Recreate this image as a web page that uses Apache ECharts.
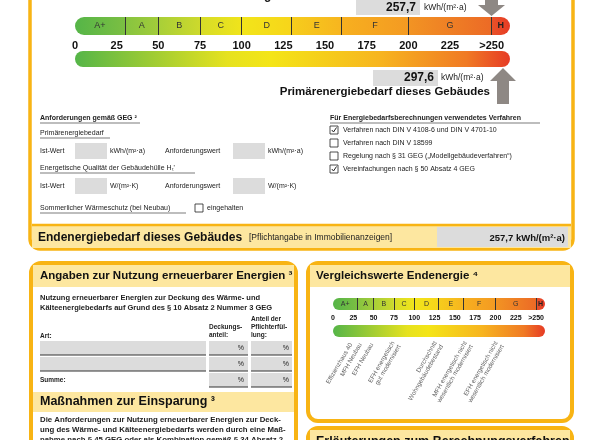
<!DOCTYPE html>
<html><head><meta charset="utf-8">
<script src="https://cdn.jsdelivr.net/npm/echarts@6/dist/echarts.min.js"></script>
<style>html,body{margin:0;padding:0;background:#fff}#c{width:590px;height:440px}</style>
</head><body><div id="c"></div>
<script>
const classLabels = ['A+','A','B','C','D','E','F','G','H'];
const classBounds = [0,30,50,75,100,130,160,200,250,261];
const tickValues = [0,25,50,75,100,125,150,175,200,225,250];
const tickLabels = ['0','25','50','75','100','125','150','175','200','225','>250'];
const endEnergy = 257.7;
const primaryEnergy = 297.6;
const refLabels = ['Effizienzhaus 40','MFH Neubau','EFH Neubau','EFH energetisch\ngut modernisiert','Durchschnitt\nWohngebäudebestand','MFH energetisch nicht\nwesentlich modernisiert','EFH energetisch nicht\nwesentlich modernisiert'];
const refValues = [22, 34, 48, 78, 130, 167, 205];

const classColors = [['#55b548','#7bbf42'],['#86c440','#a2cc3a'],['#a8cf38','#cdd92c'],['#d6dc28','#f0e41b'],['#f2e51a','#f7d51a'],['#f6cd1c','#f7b51f'],['#f7b01f','#f49a22'],['#f29423','#ec6a26'],['#e95228','#e63b25']];
const gradStops = [{offset:0,color:'#55b548'},{offset:0.35,color:'#e6e21f'},{offset:0.45,color:'#f4e517'},{offset:0.7,color:'#f7b51f'},{offset:0.9,color:'#f07a24'},{offset:1,color:'#e63b25'}];
const MAX = 261;
const FONT = 'Liberation Sans, Arial, sans-serif';
const ORANGE = '#f8b414', BAND = '#fde7a0', GRAY = '#dcdcdc', ARROW = '#8e8884';

function segSeries(xi, yi, fs){
  return classLabels.map((lab,i)=>({
    type:'bar', stack:'c'+xi, xAxisIndex:xi, yAxisIndex:yi, barWidth:'100%',
    data:[classBounds[i+1]-classBounds[i]],
    itemStyle:{color:{type:'linear',x:0,y:0,x2:1,y2:0,colorStops:[{offset:0,color:classColors[i][0]},{offset:1,color:classColors[i][1]}]},
      borderRadius: i===0?[20,0,0,20]:(i===classLabels.length-1?[0,20,20,0]:0)},
    label:{show:true,position:'inside',formatter:lab,fontFamily:FONT,fontSize:fs,color:lab==='H'?'#222':'#333',fontWeight:lab==='H'?'bold':'normal'},
    markLine: i===0?{silent:true,symbol:'none',label:{show:false},lineStyle:{color:'#333',width:1,type:'solid'},data:classBounds.slice(1,-1).map(v=>({xAxis:v}))}:undefined,
    animation:false
  }));
}
function gradSeries(xi, yi){
  return {type:'bar',xAxisIndex:xi,yAxisIndex:yi,barWidth:'100%',data:[MAX],animation:false,
    itemStyle:{borderRadius:20,color:{type:'linear',x:0,y:0,x2:1,y2:0,colorStops:gradStops}}};
}
function xAx(gi, showLabels, fs){
  return {type:'value',gridIndex:gi,min:0,max:MAX,interval:25,z:20,
    axisLine:{show:false},axisTick:{show:false},splitLine:{show:false},
    axisLabel:{show:showLabels,margin:showLabels?5:0,fontFamily:FONT,fontWeight:'bold',fontSize:fs,color:'#111',
      showMaxLabel:false,
      formatter:v=>{const k=tickValues.indexOf(v);return k<0?'':tickLabels[k];}}};
}
function yAx(gi){return {type:'category',gridIndex:gi,data:['x'],show:false};}

const g = [];
function T(x,y,t,o){g.push({type:'text',x,y,style:Object.assign({text:t,fontFamily:FONT,fontSize:7,fill:'#222',verticalAlign:'middle'},o||{}),z:10});}
function R(x,y,w,h,fill,o){g.push(Object.assign({type:'rect',shape:{x,y,width:w,height:h,r:(o&&o.r)||0},style:{fill,stroke:(o&&o.stroke)||null,lineWidth:(o&&o.lw)||1},z:(o&&o.z)||5}));}
function L(x1,y1,x2,y2,c,w){g.push({type:'line',shape:{x1,y1,x2,y2},style:{stroke:c||'#222',lineWidth:w||0.6},z:10});}
function U(x,y,t,w,o){T(x,y,t,o);L(x,y+5,x+w,y+5,'#222',0.6);}
function CB(x,y,checked){R(x,y-4,8,8,'#fff',{stroke:'#222',lw:0.8,z:11});if(checked){g.push({type:'polyline',shape:{points:[[x+1.8,y],[x+3.5,y+2],[x+6.5,y-2.5]]},style:{stroke:'#222',lineWidth:1,fill:null},z:12});}}

// top frame
R(30,-20,543,269,null,{stroke:ORANGE,lw:3.5,r:10,z:1});
R(32,226,539,22,BAND,{z:2});
L(32,225,571,225,ORANGE,2.5);
R(437,227,131,20,GRAY,{z:3});
T(38,238,'Endenergiebedarf dieses Gebäudes',{fontSize:12,fontWeight:'bold',fill:'#111'});
T(249,238,'[Pflichtangabe in Immobilienanzeigen]',{fontSize:8.5});
T(565,238,'257,7 kWh/(m²·a)',{fontSize:9.5,fontWeight:'bold',align:'right',fill:'#111'});

// top value box + arrow
T(420,-4,'Endenergiebedarf dieses Gebäudes',{fontSize:12,fontWeight:'bold',align:'right'});
R(356,0,64,15,GRAY);
T(416,8,String(endEnergy).replace('.',','),{fontSize:12,fontWeight:'bold',align:'right',fill:'#111'});
T(424,8,'kWh/(m²·a)',{fontSize:8.5});
g.push({type:'polygon',shape:{points:[[485,-5],[498,-5],[498,5],[505,5],[491.5,16],[478,5],[485,5]]},style:{fill:ARROW},z:6});
// bottom value box + arrow
R(373,70,65,16,GRAY);
T(434,78,String(primaryEnergy).replace('.',','),{fontSize:12,fontWeight:'bold',align:'right',fill:'#111'});
T(441,78,'kWh/(m²·a)',{fontSize:8.5});
T(490,92,'Primärenergiebedarf dieses Gebäudes',{fontSize:11.5,fontWeight:'bold',align:'right',fill:'#111'});
g.push({type:'polygon',shape:{points:[[503,68],[516,81],[509,81],[509,104],[497,104],[497,81],[490,81]]},style:{fill:ARROW},z:6});

// requirements
U(40,118,'Anforderungen gemäß GEG ²',100,{fontWeight:'bold'});
U(40,133,'Primärenergiebedarf',70);
T(40,151,'Ist-Wert');R(75,143,32,16,GRAY);T(110,151,'kWh/(m²·a)');
T(165,151,'Anforderungswert');R(233,143,32,16,GRAY);T(268,151,'kWh/(m²·a)');
U(40,168,"Energetische Qualität der Gebäudehülle H\u209C'",155);
T(40,186,'Ist-Wert');R(75,178,32,16,GRAY);T(110,186,'W/(m²·K)');
T(165,186,'Anforderungswert');R(233,178,32,16,GRAY);T(268,186,'W/(m²·K)');
U(40,208,'Sommerlicher Wärmeschutz (bei Neubau)',146);CB(195,208,false);T(207,208,'eingehalten');
U(330,118,'Für Energiebedarfsberechnungen verwendetes Verfahren',210,{fontWeight:'bold'});
const procs=[['Verfahren nach DIN V 4108-6 und DIN V 4701-10',true],['Verfahren nach DIN V 18599',false],['Regelung nach § 31 GEG („Modellgebäudeverfahren“)',false],['Vereinfachungen nach § 50 Absatz 4 GEG',true]];
procs.forEach((p,i)=>{CB(330,130+i*13,p[1]);T(343,130+i*13,p[0]);});

// left box
R(31,263,265,210,null,{stroke:ORANGE,lw:4,r:10,z:1});
R(33,265,261,22,BAND,{z:2});
T(40,276,'Angaben zur Nutzung erneuerbarer Energien ³',{fontSize:11.5,fontWeight:'bold',fill:'#111'});
T(40,298,'Nutzung erneuerbarer Energien zur Deckung des Wärme- und',{fontSize:7.5,fontWeight:'bold'});
T(40,308,'Kälteenergiebedarfs auf Grund des § 10 Absatz 2 Nummer 3 GEG',{fontSize:7.5,fontWeight:'bold'});
T(251,319,'Anteil der',{fontSize:6.5,fontWeight:'bold'});T(251,327,'Pflichterfül-',{fontSize:6.5,fontWeight:'bold'});T(251,335,'lung:',{fontSize:6.5,fontWeight:'bold'});
T(209,327,'Deckungs-',{fontSize:6.5,fontWeight:'bold'});T(209,335,'anteil:',{fontSize:6.5,fontWeight:'bold'});
T(40,336,'Art:',{fontSize:6.5,fontWeight:'bold'});
[341,357,373].forEach((y,i)=>{
  if(i<2){R(40,y,166,14,GRAY);L(40,y+14,206,y+14,'#333',1.2);}
  R(209,y,39,14,GRAY);L(209,y+14,248,y+14,'#333',1.2);
  R(251,y,41,14,GRAY);L(251,y+14,292,y+14,'#333',1.2);
  T(244,y+7,'%',{align:'right'});T(289,y+7,'%',{align:'right'});
});
T(40,380,'Summe:',{fontSize:6.5,fontWeight:'bold'});
R(33,392,261,20,BAND,{z:2});
T(40,402,'Maßnahmen zur Einsparung ³',{fontSize:12.5,fontWeight:'bold',fill:'#111'});
['Die Anforderungen zur Nutzung erneuerbarer Energien zur Deck-','ung des Wärme- und Kälteenergiebedarfs werden durch eine Maß-','nahme nach § 45 GEG oder als Kombination gemäß § 34 Absatz 2']
  .forEach((s,i)=>T(40,420+i*10,s,{fontSize:7.8,fontWeight:'bold'}));

// right boxes
R(308,263,264,158,null,{stroke:ORANGE,lw:4,r:10,z:1});
R(310,265,260,22,BAND,{z:2});
T(316,276,'Vergleichswerte Endenergie ⁴',{fontSize:11.5,fontWeight:'bold',fill:'#111'});
R(308,428,264,40,null,{stroke:ORANGE,lw:4,r:10,z:1});
R(310,430,260,22,BAND,{z:2});
T(316,442,'Erläuterungen zum Berechnungsverfahren',{fontSize:12.5,fontWeight:'bold',fill:'#111'});

const series = [].concat(
  segSeries(0,0,9), [gradSeries(1,1)],
  segSeries(2,2,7), [gradSeries(3,3)],
  [{type:'scatter',xAxisIndex:4,yAxisIndex:4,symbolSize:0,animation:false,
    data:refValues.map((v,i)=>({value:[v,'x'],label:{formatter:refLabels[i]}})),
    label:{show:true,position:'inside',rotate:60,align:'right',verticalAlign:'middle',fontFamily:FONT,fontSize:6.3,color:'#333',lineHeight:7}}]
);

const chart = echarts.init(document.getElementById('c'),null,{renderer:'canvas'});
chart.setOption({
  animation:false,
  grid:[
    {left:75,width:435,top:17,height:18},
    {left:75,width:435,top:51,height:16},
    {left:333,width:212,top:298,height:12},
    {left:333,width:212,top:325,height:12},
    {left:333,width:212,top:343,height:1}
  ],
  xAxis:[xAx(0,true,11),xAx(1,false,9),xAx(2,true,7),xAx(3,false,7),xAx(4,false,7)],
  yAxis:[yAx(0),yAx(1),yAx(2),yAx(3),yAx(4)],
  series, graphic:g
});
</script></body></html>
